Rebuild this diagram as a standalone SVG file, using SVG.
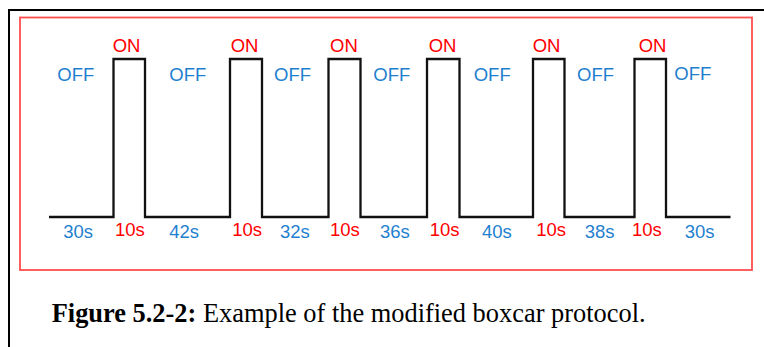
<svg xmlns="http://www.w3.org/2000/svg" width="764" height="347" viewBox="0 0 764 347">
<style>
.on{font-family:"Liberation Sans",Arial,sans-serif;font-size:18.5px;fill:#ff0000}
.off{font-family:"Liberation Sans",Arial,sans-serif;font-size:18.5px;fill:#1f7fcf}
.cap{font-family:"Liberation Serif","Times New Roman",serif;font-size:26.4px;fill:#000}
</style>
<rect width="764" height="347" fill="#fff"/>
<path d="M9,350 V10 H770" fill="none" stroke="#000" stroke-width="2"/>
<rect id="frame" x="20" y="17.5" width="732" height="252.5" fill="none" stroke="#ff4d4d" stroke-width="1.8"/>
<g id="waveform">
<path d="M49,217 H113.5 V59 H145 V217 H230 V59 H262 V217 H328.5 V59 H360.5 V217 H427 V59 H459.5 V217 H533 V59 H564.5 V217 H634.5 V59 H666 V217 H730.5" fill="none" stroke="#111" stroke-width="2.3"/>
</g>
<g id="on-labels" class="on">
<text x="112.7" y="52">ON</text>
<text x="230.7" y="52">ON</text>
<text x="330" y="52">ON</text>
<text x="428.7" y="52">ON</text>
<text x="532.7" y="52">ON</text>
<text x="638.7" y="52">ON</text>
</g>
<g id="off-labels" class="off">
<text x="57.3" y="81">OFF</text>
<text x="169.3" y="81">OFF</text>
<text x="274" y="81">OFF</text>
<text x="373.3" y="81">OFF</text>
<text x="473.7" y="81">OFF</text>
<text x="577" y="81">OFF</text>
<text x="674.3" y="79.5">OFF</text>
</g>
<g id="off-durations" class="off">
<text x="63.3" y="238">30s</text>
<text x="169.3" y="238">42s</text>
<text x="280" y="238">32s</text>
<text x="380" y="238">36s</text>
<text x="482" y="238">40s</text>
<text x="584.7" y="238">38s</text>
<text x="684.7" y="238">30s</text>
</g>
<g id="on-durations" class="on">
<text x="115" y="236">10s</text>
<text x="232.3" y="236">10s</text>
<text x="330" y="236">10s</text>
<text x="429.7" y="236">10s</text>
<text x="536.3" y="236">10s</text>
<text x="632" y="236">10s</text>
</g>
<g id="caption">
<text class="cap" x="51.7" y="322"><tspan font-weight="bold">Figure 5.2-2:</tspan> Example of the modified boxcar protocol.</text>
</g>
</svg>
